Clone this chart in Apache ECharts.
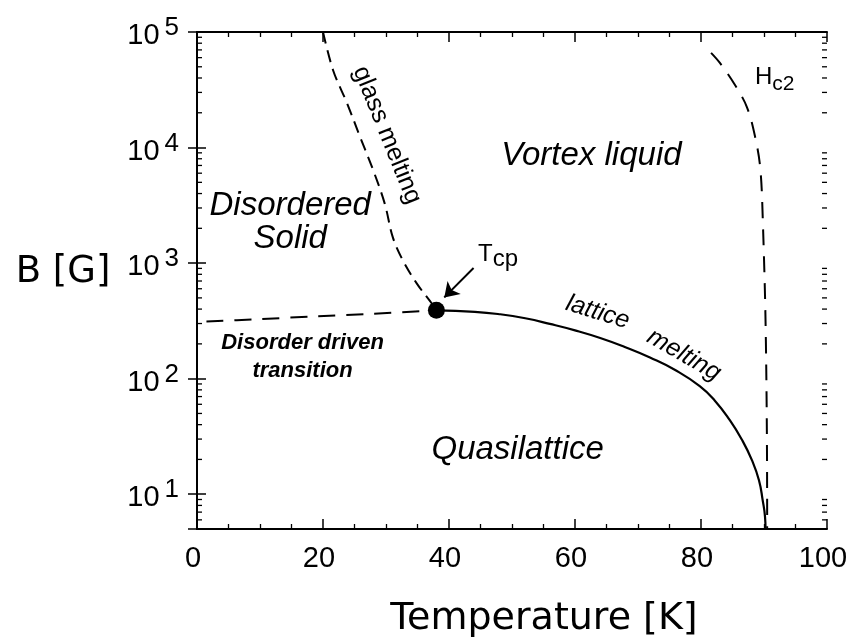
<!DOCTYPE html>
<html>
<head>
<meta charset="utf-8">
<script src="https://cdn.jsdelivr.net/npm/echarts/dist/echarts.min.js"></script>
<style>
  html, body { margin: 0; padding: 0; background: #fff; }
  #chart { width: 849px; height: 641px; }
</style>
</head>
<body>
<div id="chart"></div>
<script>
// glass melting line (dashed), from the top edge down to Tcp
var glassT = [20, 21.6, 23.8, 25.9, 28.0, 29.8, 31.1, 32.7, 34.9, 37.3, 38];
var glassB = [100000, 46700, 24300, 12300, 6300, 3270, 1660, 1050, 665, 445, 390];

// disorder driven transition (dashed), nearly flat
var disorderT = [1.5, 10, 19, 28, 38];
var disorderB = [312, 327, 347, 365, 390];

// lattice melting (solid), Tcp down to the axis
var latticeT = [38, 44.1, 48.1, 52.1, 56.0, 60.0, 64.0, 67.9, 71.9, 75.9, 79.8, 82.2, 84.6, 86.5, 88.1, 89.2, 89.8, 90.16, 90.24];
var latticeB = [390, 379, 361, 333, 298, 262, 225, 188, 152.5, 118.8, 86.2, 64.5, 43.5, 29.6, 19.6, 13.2, 8.8, 6.4, 5];

// Hc2 (dashed)
var hc2T = [81.6, 83.0, 85.4, 87.3, 88.6, 89.4, 89.8, 90.3, 90.5, 90.5];
var hc2B = [66000, 54000, 34800, 22300, 12300, 6700, 2450, 210, 5.8, 5];

// critical point and the arrow pointing at it
var tcpPoint = [38, 390];
var arrowFrom = [43.9, 908];
var arrowTo = [39.25, 505];

var xTicks = [0, 20, 40, 60, 80, 100];
var yDecades = [10, 100, 1000, 10000, 100000];

function zip(a, b) {
  return a.map(function (v, i) { return [v, b[i]]; });
}

// minor log ticks 2..9 x 10^k inside the range
var minorB = [];
for (var k = 0; k < 5; k++) {
  for (var m = 2; m <= 9; m++) {
    var v = m * Math.pow(10, k);
    if (v > 5 && v < 100000) minorB.push(v);
  }
}
var minorData = minorB.map(function (v) { return [0, v, 0]; })
  .concat(minorB.map(function (v) { return [100, v, 1]; }));

var chart = echarts.init(document.getElementById('chart'));

var axisLine = { lineStyle: { color: '#000', width: 2 } };
var tickFont = 'Liberation Sans';

function xAxisOf(pos, labels) {
  return {
    type: 'value', min: 0, max: 100, interval: 20, position: pos,
    axisLine: axisLine,
    axisTick: { inside: true, length: 10, lineStyle: { color: '#000', width: 1.5 } },
    minorTick: { show: true, splitNumber: 4, length: 5, lineStyle: { color: '#000', width: 1.3 } },
    splitLine: { show: false },
    axisLabel: {
      show: labels, margin: 15, fontSize: 29, fontFamily: tickFont, color: '#000',
      padding: [0, 8, 0, 0],
      formatter: function (v) { return xTicks.indexOf(v) >= 0 ? String(v) : ''; }
    }
  };
}

function yAxisOf(pos, labels) {
  return {
    type: 'log', logBase: 10, min: 5, max: 100000, position: pos,
    axisLine: axisLine,
    axisTick: { inside: true, length: 9, lineStyle: { color: '#000', width: 1.5 } },
    splitLine: { show: false },
    axisLabel: {
      show: labels, margin: 18, color: '#000', padding: [8, 0, 0, 0],
      formatter: function (v) {
        if (yDecades.indexOf(Math.round(v)) < 0) return '';
        var e = Math.round(Math.log(v) / Math.LN10);
        return '{b|10}{e|' + e + '}';
      },
      rich: {
        b: { fontSize: 29, fontFamily: tickFont, color: '#000', lineHeight: 42 },
        e: { fontSize: 26, fontFamily: tickFont, color: '#000', verticalAlign: 'top', padding: [0, 0, 0, 5] }
      }
    }
  };
}

var dashed = function (dash, w) {
  return { color: '#000', width: w, type: dash };
};

var option = {
  backgroundColor: '#fff',
  animation: false,
  grid: { left: 197, right: 22, top: 32, bottom: 112, outerBoundsMode: 'none' },
  xAxis: [xAxisOf('bottom', true), xAxisOf('top', false)],
  yAxis: [yAxisOf('left', true), yAxisOf('right', false)],
  series: [
    {
      name: 'glass melting', type: 'line', data: zip(glassT, glassB),
      smooth: 0.35, showSymbol: false, silent: true,
      lineStyle: dashed([12, 7], 2)
    },
    {
      name: 'disorder driven', type: 'line', data: zip(disorderT, disorderB),
      smooth: 0.3, showSymbol: false, silent: true,
      lineStyle: dashed([17, 11], 2)
    },
    {
      name: 'lattice melting', type: 'line', data: zip(latticeT, latticeB),
      smooth: 0.5, showSymbol: false, silent: true,
      lineStyle: { color: '#000', width: 2.2 }
    },
    {
      name: 'Hc2', type: 'line', data: zip(hc2T, hc2B),
      smooth: 0.35, showSymbol: false, silent: true,
      lineStyle: dashed([16, 11], 2)
    },
    {
      name: 'Tcp', type: 'scatter', data: [tcpPoint], symbolSize: 17, silent: true,
      itemStyle: { color: '#000', opacity: 1 }, z: 5
    },
    {
      name: 'arrow', type: 'lines', coordinateSystem: 'cartesian2d', silent: true,
      data: [{ coords: [arrowFrom, arrowTo] }],
      symbol: ['none', 'arrow'], symbolSize: [10, 14],
      lineStyle: { color: '#000', width: 2, opacity: 1 }
    },
    {
      name: 'minor ticks', type: 'custom', data: minorData, clip: false, silent: true,
      encode: { x: 0, y: 1 },
      renderItem: function (params, api) {
        var p = api.coord([api.value(0), api.value(1)]);
        var dir = api.value(2) === 0 ? 1 : -1;
        return {
          type: 'line',
          shape: { x1: p[0], y1: p[1], x2: p[0] + dir * 5, y2: p[1] },
          style: { stroke: '#000', lineWidth: 1.3 }
        };
      }
    }
  ]
};
chart.setOption(option);

// text annotations, anchored in data coordinates
var notes = [
  { text: 'Vortex liquid', at: [62.6, 8490], font: 'italic 33px "Liberation Sans"' },
  { text: 'Disordered\nSolid', at: [14.8, 2250], font: 'italic 33px "Liberation Sans"', lh: 33 },
  { text: 'Quasilattice', at: [50.9, 24.2], font: 'italic 33px "Liberation Sans"' },
  { text: 'Disorder driven\ntransition', at: [16.75, 155], font: 'italic bold 22px "Liberation Sans"', lh: 28 },
  { text: 'glass melting', at: [30.16, 12800], font: '25px "Liberation Sans"', rot: -68 },
  { text: 'lattice', at: [63.6, 375], font: 'italic 25px "Liberation Sans"', rot: -17 },
  { text: 'melting', at: [77.3, 160], font: 'italic 25px "Liberation Sans"', rot: -30 }
];
var subNotes = [
  { base: 'T', sub: 'cp', at: [44.6, 1197], size: 24, subSize: 24 },
  { base: 'H', sub: 'c2', at: [88.57, 40400], size: 24, subSize: 21 }
];

var graphics = [];
notes.forEach(function (n) {
  var p = chart.convertToPixel({ xAxisIndex: 0, yAxisIndex: 0 }, n.at);
  graphics.push({
    type: 'text', x: p[0], y: p[1], rotation: (n.rot || 0) * Math.PI / 180, silent: true,
    style: {
      text: n.text, font: n.font, fill: '#000', align: 'center', verticalAlign: 'middle',
      lineHeight: n.lh
    }
  });
});
subNotes.forEach(function (n) {
  var p = chart.convertToPixel({ xAxisIndex: 0, yAxisIndex: 0 }, n.at);
  graphics.push({
    type: 'text', x: p[0], y: p[1], silent: true,
    style: {
      text: '{b|' + n.base + '}{s|' + n.sub + '}', align: 'left', verticalAlign: 'middle',
      rich: {
        b: { fontSize: n.size, fontFamily: 'Liberation Sans', fill: '#000', lineHeight: 34 },
        s: { fontSize: n.subSize, fontFamily: 'Liberation Sans', fill: '#000', verticalAlign: 'bottom' }
      }
    }
  });
});
// axis titles
graphics.push({
  type: 'text', x: 63, y: 272, silent: true,
  style: { text: 'B [G]', font: '37px "DejaVu Sans"', fill: '#000', align: 'center', verticalAlign: 'middle' }
});
graphics.push({
  type: 'text', x: 544, y: 619, silent: true,
  style: { text: 'Temperature [K]', font: '38px "DejaVu Sans"', fill: '#000', align: 'center', verticalAlign: 'middle' }
});
chart.setOption({ graphic: graphics });
</script>
</body>
</html>
